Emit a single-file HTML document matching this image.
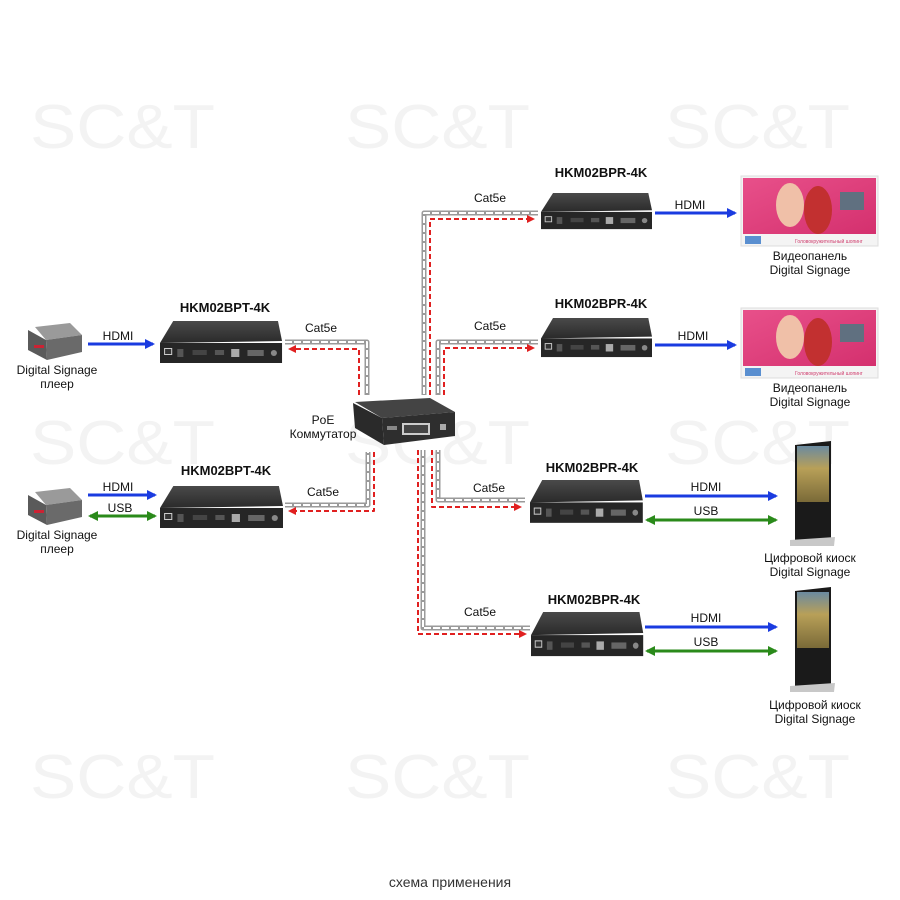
<!DOCTYPE html>
<html><head><meta charset="utf-8"><style>
html,body{margin:0;padding:0;background:#fff;}
svg{display:block;font-family:"Liberation Sans",Arial,sans-serif;}
</style></head><body>
<svg width="900" height="900" viewBox="0 0 900 900" xmlns="http://www.w3.org/2000/svg">
<defs>
<linearGradient id="top" x1="0" y1="0" x2="0" y2="1"><stop offset="0" stop-color="#4a4a4a"/><stop offset="1" stop-color="#2a2a2a"/></linearGradient>
<linearGradient id="pink" x1="0" y1="0" x2="1" y2="1"><stop offset="0" stop-color="#e8508a"/><stop offset="1" stop-color="#d4306e"/></linearGradient>
<linearGradient id="kscr" x1="0" y1="0" x2="0" y2="1"><stop offset="0" stop-color="#6b8aa0"/><stop offset="0.4" stop-color="#b8a058"/><stop offset="1" stop-color="#7a6a38"/></linearGradient>
<g id="dev">
<polygon points="13,0 116,0 120,20 0,22" fill="url(#top)"/>
<rect x="0" y="22" width="120" height="20" fill="#262626"/>
<rect x="4" y="27" width="8" height="7" fill="#ccc"/><rect x="5" y="28" width="6" height="5" fill="#333"/>
<rect x="17" y="28" width="6" height="8" fill="#555"/>
<rect x="32" y="29" width="14" height="5" fill="#444"/>
<rect x="54" y="29" width="9" height="5" fill="#555"/>
<rect x="70" y="28" width="8" height="8" fill="#aaa"/>
<rect x="86" y="29" width="16" height="6" fill="#666"/>
<circle cx="112" cy="32" r="3" fill="#888"/>
</g>
<g id="wm">
<text x="0" y="46" font-size="62" fill="#f3f3f3" textLength="185" lengthAdjust="spacingAndGlyphs">SC&amp;T</text>
</g>
<marker id="ab" markerWidth="10" markerHeight="10" refX="8" refY="5" orient="auto" markerUnits="userSpaceOnUse"><path d="M0,0 L10,5 L0,10 z" fill="#1a3be0"/></marker>
<marker id="ag" markerWidth="10" markerHeight="10" refX="8" refY="5" orient="auto-start-reverse" markerUnits="userSpaceOnUse"><path d="M0,0 L10,5 L0,10 z" fill="#2a8a1a"/></marker>
<marker id="ar" markerWidth="8" markerHeight="8" refX="6" refY="4" orient="auto" markerUnits="userSpaceOnUse"><path d="M0,0 L8,4 L0,8 z" fill="#e02020"/></marker>
</defs>

<use href="#wm" x="30" y="102"/><use href="#wm" x="345" y="102"/><use href="#wm" x="665" y="102"/>
<use href="#wm" x="30" y="418"/><use href="#wm" x="345" y="418"/><use href="#wm" x="665" y="418"/>
<use href="#wm" x="30" y="752"/><use href="#wm" x="345" y="752"/><use href="#wm" x="665" y="752"/>

<g fill="none" stroke-linejoin="round">
<g stroke="#9a9a9a" stroke-width="5">
<path d="M285,342 H367 V395"/><path d="M285,505 H368 V452"/>
<path d="M538,213 H424 V395"/><path d="M538,342 H438 V395"/>
<path d="M525,500 H438 V450"/><path d="M530,628 H423 V450"/>
</g>
<g stroke="#fff" stroke-width="2" stroke-dasharray="7 2">
<path d="M285,342 H367 V395"/><path d="M285,505 H368 V452"/>
<path d="M538,213 H424 V395"/><path d="M538,342 H438 V395"/>
<path d="M525,500 H438 V450"/><path d="M530,628 H423 V450"/>
</g>
<g stroke="#e02020" stroke-width="2" stroke-dasharray="5 3">
<path d="M359,395 V349 H290" marker-end="url(#ar)"/>
<path d="M374,452 V511 H290" marker-end="url(#ar)"/>
<path d="M430,395 V219 H533" marker-end="url(#ar)"/>
<path d="M444,395 V348 H533" marker-end="url(#ar)"/>
<path d="M432,450 V507 H520" marker-end="url(#ar)"/>
<path d="M418,450 V634 H525" marker-end="url(#ar)"/>
</g>
</g>

<g transform="translate(160,321) scale(1.017,1)"><use href="#dev"/></g>
<g transform="translate(160,486) scale(1.025,1)"><use href="#dev"/></g>
<g transform="translate(541,193) scale(0.925,0.86)"><use href="#dev"/></g>
<g transform="translate(541,318) scale(0.925,0.93)"><use href="#dev"/></g>
<g transform="translate(530,480) scale(0.94,1.02)"><use href="#dev"/></g>
<g transform="translate(531,612) scale(0.935,1.05)"><use href="#dev"/></g>

<polygon points="355,402 430,398 455,412 382,418" fill="#444"/>
<polygon points="353,403 382,418 384,445 355,428" fill="#2a2a2a"/>
<polygon points="382,418 455,412 455,436 384,445" fill="#2e2e2e"/>
<rect x="402" y="423" width="28" height="12" fill="#ccc"/>
<rect x="404" y="425" width="24" height="8" fill="#444"/>
<rect x="440" y="424" width="6" height="6" fill="#aaa"/>
<rect x="387" y="426" width="10" height="4" fill="#888"/>

<g>
<polygon points="35,327 70,323 82,335 46,340" fill="#9a9a9a"/>
<polygon points="28,330 46,340 47,360 28,350" fill="#5a5a5a"/>
<polygon points="46,340 82,335 82,352 47,360" fill="#6a6a6a"/>
<rect x="34" y="345" width="10" height="3" fill="#c23"/>
</g>
<g transform="translate(0,165)">
<polygon points="35,327 70,323 82,335 46,340" fill="#9a9a9a"/>
<polygon points="28,330 46,340 47,360 28,350" fill="#5a5a5a"/>
<polygon points="46,340 82,335 82,352 47,360" fill="#6a6a6a"/>
<rect x="34" y="345" width="10" height="3" fill="#c23"/>
</g>

<g>
<rect x="741" y="176" width="137" height="70" fill="#f4f4f4" stroke="#ddd"/>
<rect x="743" y="178" width="133" height="56" fill="url(#pink)"/>
<ellipse cx="790" cy="205" rx="14" ry="22" fill="#f0c0a8"/><ellipse cx="818" cy="210" rx="14" ry="24" fill="#c23030"/>
<rect x="840" y="192" width="24" height="18" fill="#607080"/>
<rect x="745" y="236" width="16" height="8" fill="#5a8fd0"/>
<text x="795" y="243" font-size="5" fill="#d04070">Головокружительный шопинг</text>
</g>
<g transform="translate(0,132)">
<rect x="741" y="176" width="137" height="70" fill="#f4f4f4" stroke="#ddd"/>
<rect x="743" y="178" width="133" height="56" fill="url(#pink)"/>
<ellipse cx="790" cy="205" rx="14" ry="22" fill="#f0c0a8"/><ellipse cx="818" cy="210" rx="14" ry="24" fill="#c23030"/>
<rect x="840" y="192" width="24" height="18" fill="#607080"/>
<rect x="745" y="236" width="16" height="8" fill="#5a8fd0"/>
<text x="795" y="243" font-size="5" fill="#d04070">Головокружительный шопинг</text>
</g>

<g>
<polygon points="795,445 831,441 831,538 795,540" fill="#1a1a1a"/>
<rect x="797" y="446" width="32" height="56" fill="url(#kscr)"/>
<polygon points="790,540 835,537 834,546 790,546" fill="#c8c8c8"/>
</g>
<g transform="translate(0,146)">
<polygon points="795,445 831,441 831,538 795,540" fill="#1a1a1a"/>
<rect x="797" y="446" width="32" height="56" fill="url(#kscr)"/>
<polygon points="790,540 835,537 834,546 790,546" fill="#c8c8c8"/>
</g>

<g stroke-width="3" fill="none">
<line x1="88" y1="344" x2="153" y2="344" stroke="#1a3be0" marker-end="url(#ab)"/>
<line x1="88" y1="495" x2="155" y2="495" stroke="#1a3be0" marker-end="url(#ab)"/>
<line x1="90" y1="516" x2="155" y2="516" stroke="#2a8a1a" marker-start="url(#ag)" marker-end="url(#ag)"/>
<line x1="655" y1="213" x2="735" y2="213" stroke="#1a3be0" marker-end="url(#ab)"/>
<line x1="655" y1="345" x2="735" y2="345" stroke="#1a3be0" marker-end="url(#ab)"/>
<line x1="645" y1="496" x2="776" y2="496" stroke="#1a3be0" marker-end="url(#ab)"/>
<line x1="647" y1="520" x2="776" y2="520" stroke="#2a8a1a" marker-start="url(#ag)" marker-end="url(#ag)"/>
<line x1="645" y1="627" x2="776" y2="627" stroke="#1a3be0" marker-end="url(#ab)"/>
<line x1="647" y1="651" x2="776" y2="651" stroke="#2a8a1a" marker-start="url(#ag)" marker-end="url(#ag)"/>
</g>

<g font-size="12" fill="#111" text-anchor="middle">
<text x="118" y="340">HDMI</text>
<text x="118" y="491">HDMI</text>
<text x="120" y="512">USB</text>
<text x="690" y="209">HDMI</text>
<text x="693" y="340">HDMI</text>
<text x="706" y="491">HDMI</text>
<text x="706" y="515">USB</text>
<text x="706" y="622">HDMI</text>
<text x="706" y="646">USB</text>
<text x="321" y="332">Cat5e</text>
<text x="323" y="496">Cat5e</text>
<text x="490" y="202">Cat5e</text>
<text x="490" y="330">Cat5e</text>
<text x="489" y="492">Cat5e</text>
<text x="480" y="616">Cat5e</text>
<text x="57" y="374">Digital Signage</text>
<text x="57" y="388">плеер</text>
<text x="57" y="539">Digital Signage</text>
<text x="57" y="553">плеер</text>
<text x="810" y="260">Видеопанель</text>
<text x="810" y="274">Digital Signage</text>
<text x="810" y="392">Видеопанель</text>
<text x="810" y="406">Digital Signage</text>
<text x="810" y="562">Цифровой киоск</text>
<text x="810" y="576">Digital Signage</text>
<text x="815" y="709">Цифровой киоск</text>
<text x="815" y="723">Digital Signage</text>
<text x="323" y="424">PoE</text>
<text x="323" y="438">Коммутатор</text>
</g>
<g font-size="13" font-weight="bold" fill="#111" text-anchor="middle">
<text x="601" y="177">HKM02BPR-4K</text>
<text x="601" y="308">HKM02BPR-4K</text>
<text x="592" y="472">HKM02BPR-4K</text>
<text x="594" y="604">HKM02BPR-4K</text>
<text x="225" y="312">HKM02BPT-4K</text>
<text x="226" y="475">HKM02BPT-4K</text>
</g>
<text x="450" y="887" font-size="14" fill="#333" text-anchor="middle">схема применения</text>
</svg>
</body></html>
